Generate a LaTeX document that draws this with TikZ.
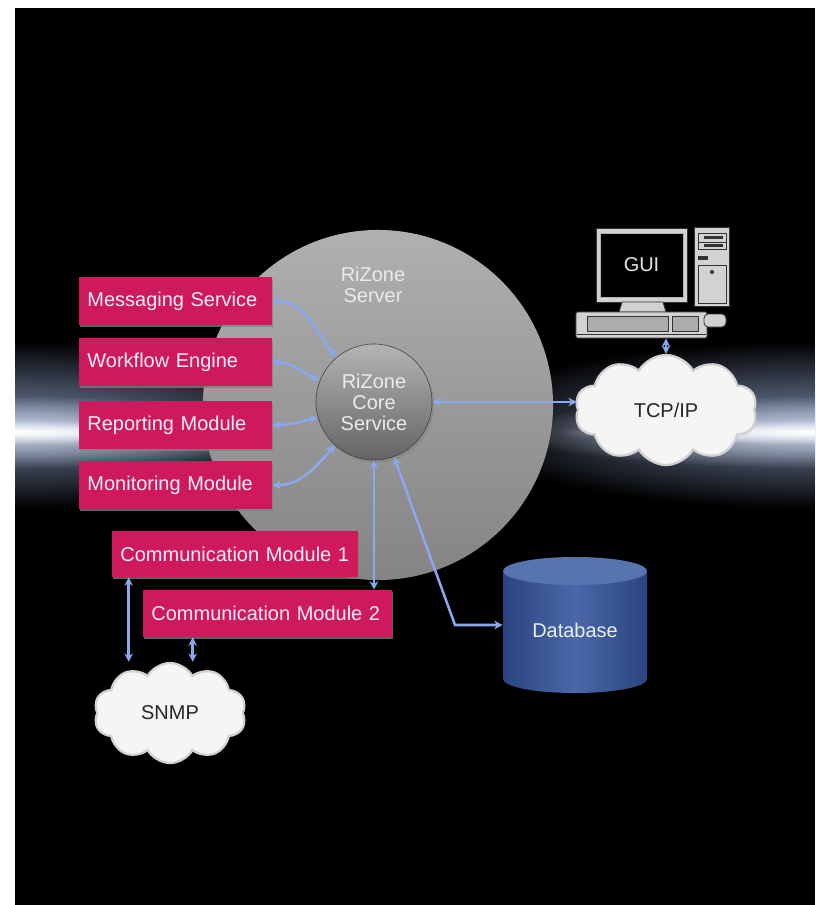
\documentclass[tikz,border=0pt]{standalone}
\usepackage{fontspec}
\setmainfont{Liberation Sans}
\usepackage{tikz}
\usetikzlibrary{positioning,calc,shapes.symbols,arrows.meta,shadows,fadings}

\definecolor{modpink}{RGB}{206,26,92}
\definecolor{linkblue}{RGB}{138,168,236}
\definecolor{haze}{RGB}{118,134,168}
\definecolor{glow}{RGB}{205,214,232}
\definecolor{disctop}{RGB}{176,176,176}
\definecolor{discbot}{RGB}{132,132,132}
\definecolor{coretop}{RGB}{180,180,180}
\definecolor{corebot}{RGB}{100,100,100}
\definecolor{dbblue}{RGB}{74,104,168}
\definecolor{dbdark}{RGB}{42,68,126}
\definecolor{pcgray}{RGB}{210,210,210}

\tikzfading[name=soft glow, inner color=transparent!0, outer color=transparent!100]

\tikzset{
  label font/.style={font=\fontsize{14.2}{15}\selectfont},
  module/.style={label font, rectangle, fill=modpink, text=white!93!modpink,
    align=left, text width=4.4cm, inner xsep=0.2125cm, inner ysep=0pt,
    minimum height=1.2cm,
    drop shadow={shadow xshift=0.6pt, shadow yshift=-1.6pt, opacity=0.75}},
  link/.style={draw=linkblue, line width=1.8pt,
    {Stealth[length=6pt,width=6pt]}-{Stealth[length=6pt,width=6pt]}},
  net/.style={label font, cloud, cloud puffs=10, cloud puff arc=120, aspect=1.6,
    fill=white!96!black, draw=gray!35, line width=1.6pt, text=black!85, inner sep=0pt,
    drop shadow={shadow xshift=0.8pt, shadow yshift=-0.8pt, opacity=0.3, fill=gray}},
  pcpart/.style={fill=pcgray, draw=gray!40!black, line width=0.6pt},
}

\begin{document}
\begin{tikzpicture}[x=0.025cm, y=0.025cm]
  \useasboundingbox (0,0) rectangle (815,-905);
  \fill[white] (0,0) rectangle (815,-905);
  \fill[black] (15,-8) rectangle (815,-905);

  % Horizon glow, left and right
  \begin{scope}
    \clip (15,-8) rectangle (815,-905);
    \foreach \gx in {15,815} {
      \fill[haze, path fading=soft glow] (\gx,-425) ellipse (9cm and 2.1cm);
      \fill[glow, path fading=soft glow] (\gx,-432) ellipse (7.5cm and 0.9cm);
      \fill[white, path fading=soft glow] (\gx,-432) ellipse (6.5cm and 0.3cm);
    }
  \end{scope}

  % Server disc
  \node[circle, minimum size=8.75cm, inner sep=0pt, top color=disctop, bottom color=discbot] (server) at (378,-405) {};
  \node[label font, text=white!92!black, align=center] (srvname) at (373,-285) {RiZone\\Server};

  % Core service
  \node[circle, minimum size=2.9cm, inner sep=0pt, top color=coretop, bottom color=corebot,
    draw=gray!50!black, line width=0.4pt, label font, text=white!92!black, align=center,
    drop shadow={shadow xshift=1.5pt, shadow yshift=-2pt, opacity=0.5}] (core) at (374,-402) {RiZone\\Core\\Service};

  % Modules
  \node[module] (msg) at (175.5,-301) {Messaging Service};
  \node[module] (wf)  at (175.5,-362) {Workflow Engine};
  \node[module] (rep) at (175.5,-425) {Reporting Module};
  \node[module] (mon) at (175.5,-485) {Monitoring Module};
  \node[module, text width=5.725cm, minimum height=1.15cm] (com1) at (235,-554) {Communication Module 1};
  \node[module, text width=5.8cm, minimum height=1.175cm] (com2) at (267.5,-613.5) {Communication Module 2};

  % Database
  \fill[left color=dbdark, right color=dbdark, middle color=dbblue]
    (503,-571) -- (503,-679) arc[start angle=180, end angle=360, x radius=1.8cm, y radius=0.35cm]
    -- (647,-571) -- cycle;
  \fill[dbblue!92!white] (575,-571) ellipse (1.8cm and 0.35cm);
  \node[label font, text=white!88!dbblue, minimum width=3.6cm, inner sep=0pt] (db) at (575,-630) {Database};

  % Networks
  \node[net, minimum width=4.55cm, minimum height=2.75cm] (tcp) at (666,-410) {TCP/IP};
  \node[net, minimum width=3.8cm, minimum height=2.5cm] (snmp) at (170,-713) {SNMP};

  % Workstation
  \node[pcpart, minimum width=2.275cm, minimum height=1.85cm] (screen) at (641.5,-265) {};
  \node[fill=black, draw=gray!60, line width=0.5pt, minimum width=2.075cm, minimum height=1.6cm,
    label font, text=white!90!black] (gui) at (641.5,-265) {GUI};
  \draw[pcpart] (622,-302) -- (663,-302) -- (666,-312) -- (619,-312) -- cycle;
  \node[pcpart, rounded corners=1pt, minimum width=3.275cm, minimum height=0.65cm] (kbd) at (641.5,-325) {};
  \draw[gray!40!black, line width=0.6pt] (577,-334) -- (706,-334);
  \fill[gray!65, draw=gray!40!black, line width=0.5pt] (587,-316) rectangle (668,-331);
  \fill[gray!65, draw=gray!40!black, line width=0.5pt] (672,-316) rectangle (698,-331);
  \draw[pcpart, rounded corners=3pt] (704,-314) rectangle (726,-327);
  \node[pcpart, minimum width=0.875cm, minimum height=1.975cm] (tower) at (711.5,-266.5) {};
  \draw[pcpart, line width=0.5pt] (698,-233) rectangle (726,-242);
  \draw[pcpart, line width=0.5pt] (698,-242) rectangle (726,-249);
  \fill[gray!40!black] (704,-236) rectangle (723,-239);
  \fill[gray!40!black] (704,-244) rectangle (723,-247);
  \fill[gray!40!black] (698,-256) rectangle (708,-260);
  \draw[pcpart, line width=0.5pt] (698,-265) rectangle (726,-303);
  \fill[gray!50!black] (712,-272) circle (1.5pt);

  % Links
  \draw[link] (msg.east) to[out=0, in=130] (core.130);
  \draw[link] (wf.east) to[out=0, in=158] (core.158);
  \draw[link] (rep.east) to[out=0, in=195] (core.195);
  \draw[link] (mon.east) to[out=0, in=228] (core.228);
  \draw[link] (core.east) -- (core.east -| tcp.west);
  \draw[link] (kbd.south -| tcp.north) -- (tcp.north);
  \draw[link] (core.south) -- (core.south |- com2.north);
  \coordinate (bend) at (455,-625);
  \draw[link] (core.-70) -- (bend) -- (bend -| db.west);
  \draw[link] ([xshift=0.425cm]com1.south west) -- ([xshift=0.425cm]com1.south west |- snmp.north);
  \draw[link] ([xshift=1.25cm]com2.south west) -- ([xshift=1.25cm]com2.south west |- snmp.north);
\end{tikzpicture}
\end{document}
